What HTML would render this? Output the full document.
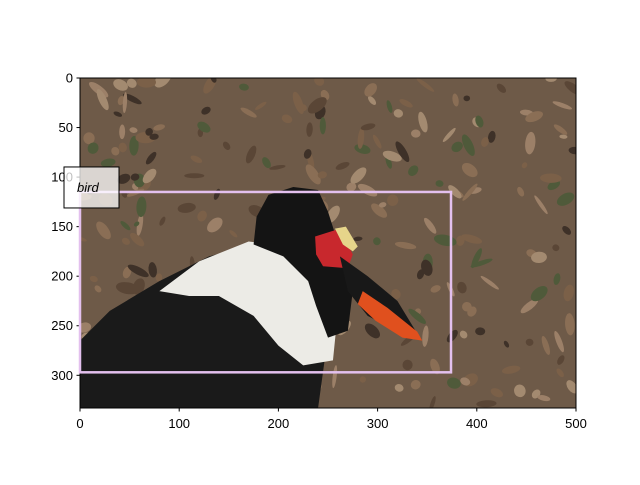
<!DOCTYPE html>
<html><head><meta charset="utf-8">
<style>
html,body{margin:0;padding:0;background:#fff;}
svg text{font-family:"Liberation Sans","DejaVu Sans",sans-serif;font-size:13px;fill:#000;}
</style></head>
<body>
<svg id="chart" width="640" height="480" xmlns="http://www.w3.org/2000/svg">
  <svg x="80" y="78" width="496" height="330" viewBox="0 0 500 333" preserveAspectRatio="none">
    <rect x="0" y="0" width="500" height="333" fill="#6e5a48"/>
    <g id="leaves"></g>
    <g>
      <polygon points="0,265 30,235 80,205 130,180 175,168 215,200 250,260 240,333 0,333" fill="#1a1a1a"/>
      <polygon points="80,215 120,185 170,165 210,170 240,200 258,255 255,285 225,290 200,270 175,240 140,220 110,220" fill="#ecebe6"/>
      <polygon points="175,168 178,140 190,118 215,110 240,113 250,135 258,160 275,215 270,255 250,262 238,230 230,205 205,180" fill="#141414"/>
      <polygon points="237,160 262,152 275,178 270,192 245,190 238,178" fill="#c8282d"/>
      <polygon points="257,152 268,150 280,170 275,175 265,168" fill="#e6d58a"/>
      <polygon points="262,180 290,200 320,225 340,258 325,258 290,240 270,215" fill="#181818"/>
      <polygon points="285,215 310,232 340,256 345,265 325,262 298,245 280,228" fill="#e0501e"/>
    </g>
  </svg>
  <rect x="80" y="78" width="496" height="330" fill="none" stroke="#000" stroke-width="1"/>
  <g id="xticks"></g>
  <g id="yticks"></g>
  <g id="boxes"></g>
</svg>
<script>
const xTicks = [0,100,200,300,400,500];
const yTicks = [0,50,100,150,200,250,300];
const bbox = [0,115,374,297]; // x0,y0,x1,y1 in image pixels
const boxLabel = "bird";
const imgW = 500, imgH = 333;

const X = v => 80 + v*496/imgW;
const Y = v => 78 + v*330/imgH;
const NS = "http://www.w3.org/2000/svg";
function mk(tag, attrs, parent){const e=document.createElementNS(NS,tag);for(const k in attrs)e.setAttribute(k,attrs[k]);parent.appendChild(e);return e;}

// leaf litter texture (deterministic pattern)
const lv = document.getElementById('leaves');
const cols=["#8a6e55","#5a4636","#9c8068","#4f5a3a","#7b6048","#a38a70","#3e3128"];
let s=7;
function rnd(){s=(s*9301+49297)%233280;return s/233280;}
for(let i=0;i<260;i++){
  const e=mk('ellipse',{cx:(rnd()*500).toFixed(1),cy:(rnd()*333).toFixed(1),rx:(3+rnd()*9).toFixed(1),ry:(2+rnd()*4).toFixed(1),fill:cols[Math.floor(rnd()*cols.length)],transform:''},lv);
  e.setAttribute('transform','rotate('+Math.floor(rnd()*180)+' '+e.getAttribute('cx')+' '+e.getAttribute('cy')+')');
}

const xg=document.getElementById('xticks');
xTicks.forEach(t=>{
  const l=mk('line',{x1:X(t),x2:X(t),y1:408,y2:411.5,stroke:'#000'},xg);
  
  
  const tx=mk('text',{x:X(t),y:428,'text-anchor':'middle'},xg);tx.textContent=t;
  
  
});
const yg=document.getElementById('yticks');
yTicks.forEach(t=>{
  const l=mk('line',{x1:76.5,x2:80,y1:Y(t),y2:Y(t),stroke:'#000'},yg);
  
  
  const tx=mk('text',{x:73,y:Y(t)+4.5,'text-anchor':'end'},yg);tx.textContent=t;
  
  
});

const bg=document.getElementById('boxes');
const r=mk('rect',{x:X(bbox[0]),y:Y(bbox[1]),width:X(bbox[2])-X(bbox[0]),height:Y(bbox[3])-Y(bbox[1]),fill:'none',stroke:'#e3c0ee','stroke-width':2.5},bg);


const lb=mk('rect',{x:X(bbox[0])-16,y:Y(bbox[1])-25,width:55,height:41,fill:'#ffffff','fill-opacity':0.75,stroke:'#000','stroke-width':1},bg);


const lt=mk('text',{x:X(bbox[0])-3,y:Y(bbox[1])+0,'font-style':'italic'},bg);
lt.textContent=boxLabel;


</script>
</body></html>
